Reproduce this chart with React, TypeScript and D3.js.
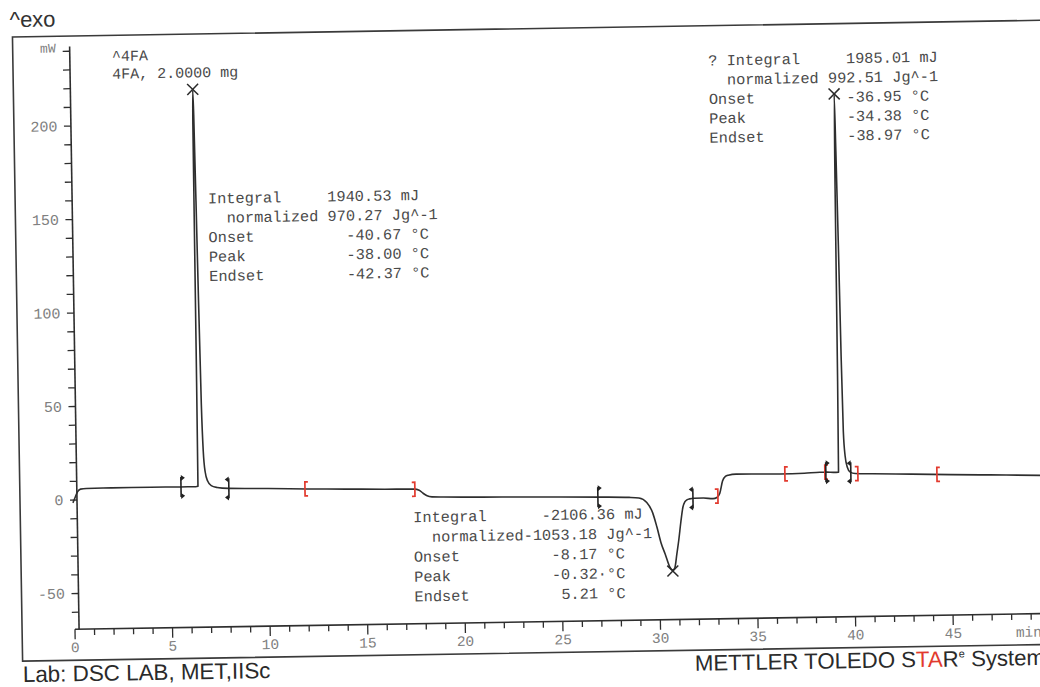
import React from 'react';
import * as d3 from 'd3';

// DSC thermogram: time (min) vs heat flow (mW)
const TIME_MIN = [
  0, 0.12, 0.25, 0.4, 0.7, 2, 4, 5.5, 6.3, 6.42, 6.44, 6.46, 6.48, 6.51, 6.58, 6.66, 6.72, 6.8, 6.92, 7.1, 7.4,
  8.0, 10, 12, 14, 16, 17.5, 17.75, 17.95, 18.15, 18.4, 19, 22, 25, 27, 28.5, 29.0, 29.4, 29.7, 29.9, 30.1, 30.3,
  30.53, 30.68, 30.78, 30.9, 31.01, 31.13, 31.25, 31.35, 31.46, 31.6, 31.85, 32.3, 32.8, 33.0, 33.15, 33.3, 33.45,
  33.6, 34.0, 35, 36.25, 37.5, 38.3, 38.65, 39.0, 39.25, 39.28, 39.31, 39.34, 39.38, 39.43, 39.48, 39.53, 39.6,
  39.7, 39.85, 40.1, 41, 43, 45, 47, 49.6, 50.5,
];
const HEAT_FLOW_MW = [
  -1.5, 1.5, 4.5, 5.8, 6.1, 6.2, 6.2, 6.1, 6.1, 6.3, 80, 200, 218, 205, 130, 50, 25, 14, 9, 6.5, 5.5,
  4.9, 4.5, 3.9, 3.5, 3.1, 2.9, 2.3, 0.6, -0.8, -1.4, -1.6, -2.1, -2.6, -3.0, -3.4, -3.8, -6.3, -12, -19.5, -28, -34,
  -41, -42.6, -41.6, -34, -26.6, -17, -9, -6.3, -5.2, -4.7, -4.4, -4.4, -4.8, -4.2, -2, 4.5, 7,
  7.6, 8.1, 8.0, 7.8, 8.0, 8.4, 8.4, 8.2, 8.3, 60, 160, 210, 180, 130, 70, 30, 17,
  11, 8.2, 7.4, 7.1, 6.6, 6.0, 5.5, 4.8, 4.5,
];

const X_TICK_VALUES = [0, 5, 10, 15, 20, 25, 30, 35, 40, 45];
const Y_TICK_VALUES = [200, 150, 100, 50, 0, -50];
const X_UNIT = 'min';
const Y_UNIT = 'mW';

// peak positions (min) marked with an X
const PEAK_TIMES = [6.48, 30.68, 39.34];
// black integration-limit markers (min) and the side they open to
const LIMIT_TIMES = [5.55, 8.0, 26.9, 31.77, 38.6, 39.88];
const LIMIT_SIDES = [1, -1, 1, -1, 1, -1];
// red evaluation brackets (min)
const RED_TIMES = [11.9, 17.53, 33.05, 36.5, 38.55, 40.24, 44.29];
const RED_KINDS = ['[', ']', ']', '[', '[', ']', '['];

const HEADER_LINES = ['^4FA', '4FA, 2.0000 mg'];
const BLOCK_FREEZE_1 = [
  'Integral     1940.53 mJ',
  '  normalized 970.27 Jg^-1',
  'Onset          -40.67 °C',
  'Peak           -38.00 °C',
  'Endset         -42.37 °C',
];
const BLOCK_MELT = [
  'Integral      -2106.36 mJ',
  '  normalized-1053.18 Jg^-1',
  'Onset          -8.17 °C',
  'Peak           -0.32·°C',
  'Endset          5.21 °C',
];
const BLOCK_FREEZE_2 = [
  '? Integral     1985.01 mJ',
  '  normalized 992.51 Jg^-1',
  'Onset          -36.95 °C',
  'Peak           -34.38 °C',
  'Endset         -38.97 °C',
];

const MONO = '"Liberation Mono", "DejaVu Sans Mono", monospace';
const SANS = '"Liberation Sans", Arial, sans-serif';
const INK = '#2e2e2e';
const TEXT_INK = '#4a4a4a';
const TICK_INK = '#808080';
const RED = '#e23a2e';

function valueAt(t: number): number {
  const i = d3.bisectLeft(TIME_MIN, t);
  if (i <= 0) return HEAT_FLOW_MW[0];
  if (i >= TIME_MIN.length) return HEAT_FLOW_MW[HEAT_FLOW_MW.length - 1];
  const t0 = TIME_MIN[i - 1], t1 = TIME_MIN[i];
  const f = (t - t0) / (t1 - t0);
  return HEAT_FLOW_MW[i - 1] + f * (HEAT_FLOW_MW[i] - HEAT_FLOW_MW[i - 1]);
}

function TextBlock({ lines, x, y, step, size }: { lines: string[]; x: number; y: number; step: number; size: number }) {
  return (
    <g>
      {lines.map((s, i) => (
        <text key={i} x={x} y={y + i * step} fontFamily={MONO} fontSize={size} fill={TEXT_INK}
          xmlSpace="preserve" style={{ whiteSpace: 'pre' }}>{s}</text>
      ))}
    </g>
  );
}

export default function App() {
  const W = 1040, H = 687;
  const x = d3.scaleLinear().domain([0, 45]).range([70.4, 948.6]);
  const y = d3.scaleLinear().domain([0, 200]).range([492.8, 118.8]);
  const axisX = x(0.21);
  const axisY = y(-69.1);
  const axisTop = y(242.5);

  const pts: [number, number][] = TIME_MIN.map((t, i) => [t, HEAT_FLOW_MW[i]]);
  const line = d3.line<[number, number]>()
    .x(d => x(d[0]))
    .y(d => y(d[1]))
    .curve(d3.curveMonotoneX);

  const yTicks = d3.range(-60, 241, 10);
  const xTicks = d3.range(0, 52, 1);

  return (
    <svg width={W} height={H} viewBox={`0 0 ${W} ${H}`}
      style={{ position: 'absolute', left: 0, top: 0, background: '#ffffff' }}>
      <rect x={0} y={0} width={W} height={H} fill="#ffffff" />
      <g transform="rotate(-0.93, 520, 343)">
        {/* title */}
        <text x={15} y={19} fontFamily={SANS} fontSize={22} fill="#333">^exo</text>

        {/* frame */}
        <path d={`M 1100 28.8 H 17.5 V 653 H 1100`} fill="none" stroke="#3a3a3a" strokeWidth={1.6} />

        {/* y axis */}
        <line x1={axisX} x2={axisX} y1={axisTop} y2={axisY} stroke={INK} strokeWidth={1.6} />
        {yTicks.map(v => (
          <line key={v} x1={axisX - 7} x2={axisX} y1={y(v)} y2={y(v)} stroke={INK} strokeWidth={1.3} />
        ))}
        {Y_TICK_VALUES.map(v => (
          <text key={v} x={axisX - 13.5} y={y(v) + 5} textAnchor="end" fontFamily={MONO} fontSize={15}
            fill={TICK_INK}>{v}</text>
        ))}
        <text x={axisX - 14} y={y(240) + 1} textAnchor="end" fontFamily={MONO} fontSize={13} fill={TICK_INK}>{Y_UNIT}</text>

        {/* x axis */}
        <line x1={x(0)} x2={1100} y1={axisY} y2={axisY} stroke={INK} strokeWidth={1.6} />
        {xTicks.map(t => (
          <line key={t} x1={x(t)} x2={x(t)} y1={axisY} y2={axisY + (t % 5 === 0 ? 10 : 6)} stroke={INK} strokeWidth={1.3} />
        ))}
        {X_TICK_VALUES.map(t => (
          <text key={t} x={x(t)} y={axisY + 23} textAnchor="middle" fontFamily={MONO} fontSize={14.5}
            fill={TICK_INK}>{t}</text>
        ))}
        <text x={x(48.2)} y={axisY + 23} fontFamily={MONO} fontSize={14.5} fill={TICK_INK}>{X_UNIT}</text>

        {/* curve */}
        <path d={line(pts) || ''} fill="none" stroke={INK} strokeWidth={1.6} strokeLinejoin="round" />

        {/* red evaluation brackets */}
        {RED_TIMES.map((t, i) => {
          const px = x(t), py = y(valueAt(t));
          const d = RED_KINDS[i] === '['
            ? `M ${px + 3} ${py - 7} H ${px} V ${py + 7} H ${px + 3}`
            : `M ${px - 3} ${py - 7} H ${px} V ${py + 7} H ${px - 3}`;
          return <path key={i} d={d} fill="none" stroke={RED} strokeWidth={1.7} />;
        })}

        {/* black integration limits */}
        {LIMIT_TIMES.map((t, i) => {
          const px = x(t), py = y(valueAt(t)), s = LIMIT_SIDES[i];
          return (
            <g key={i}>
              <line x1={px} x2={px} y1={py - 10} y2={py + 10} stroke="#222" strokeWidth={1.6} />
              <path d={`M ${px} ${py - 12} L ${px + 4 * s} ${py - 9} L ${px} ${py - 6} Z`} fill="#222" />
              <path d={`M ${px} ${py + 12} L ${px + 4 * s} ${py + 9} L ${px} ${py + 6} Z`} fill="#222" />
            </g>
          );
        })}

        {/* peak X marks */}
        {PEAK_TIMES.map((t, i) => {
          const px = x(t), py = y(valueAt(t)) + (valueAt(t) > 0 ? -1 : 1);
          return (
            <g key={i} stroke="#2a2a2a" strokeWidth={1.5}>
              <line x1={px - 5.5} x2={px + 5.5} y1={py - 5.5} y2={py + 5.5} />
              <line x1={px - 5.5} x2={px + 5.5} y1={py + 5.5} y2={py - 5.5} />
            </g>
          );
        })}

        {/* annotations */}
        <TextBlock lines={HEADER_LINES} x={116.6} y={54.4} step={17.8} size={15} />
        <TextBlock lines={BLOCK_FREEZE_1} x={210.3} y={198.4} step={19.4} size={15.3} />
        <TextBlock lines={BLOCK_MELT} x={410.4} y={520.5} step={19.8} size={15.3} />
        <TextBlock lines={BLOCK_FREEZE_2} x={712.8} y={68.6} step={19.3} size={15.3} />

        {/* footer */}
        <text x={17.5} y={674} fontFamily={SANS} fontSize={22.4} fill="#2a2a2a">Lab: DSC LAB, MET,IISc</text>
        <text x={689.7} y={673.5} fontFamily={SANS} fontSize={22.2} fill="#2a2a2a">
          METTLER TOLEDO S<tspan fill={RED}>TA</tspan>R<tspan fontSize={11} dy={-9}>e</tspan><tspan dy={9}> System</tspan>
        </text>
      </g>
    </svg>
  );
}
